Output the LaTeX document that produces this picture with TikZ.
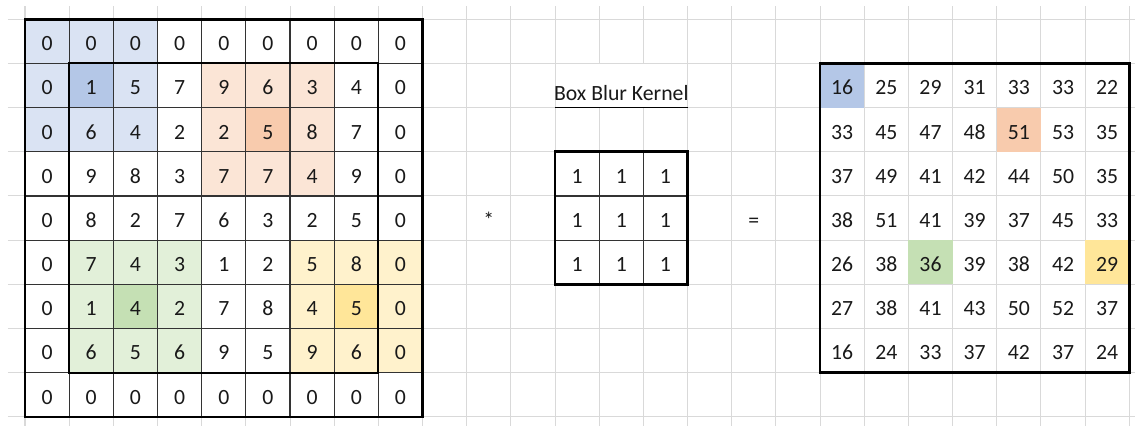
\documentclass[tikz,border=0pt]{standalone}
\usepackage{fontspec}
\setmainfont{Carlito}
\definecolor{bluelt}{HTML}{DAE3F3}
\definecolor{bluedk}{HTML}{B4C7E7}
\definecolor{orangelt}{HTML}{FBE5D6}
\definecolor{orangedk}{HTML}{F8CBAD}
\definecolor{greenlt}{HTML}{E2F0D9}
\definecolor{greendk}{HTML}{C5E0B4}
\definecolor{yellowlt}{HTML}{FFF2CC}
\definecolor{yellowdk}{HTML}{FFE699}
\begin{document}
\begin{tikzpicture}[x=1cm, y=-1cm,
    every node/.style={font=\fontsize{14}{16}\selectfont, text=black!90, anchor=base, inner sep=0pt},
    gridline/.style={gray!30, line width=0.65pt},
    cellline/.style={black!80, line width=0.8pt},
    frame/.style={black, line width=1.7pt}]
  \useasboundingbox (-0.566,-0.437) rectangle (25.13,9.208);

  % sheet grid
  \foreach \c in {0,...,25} \draw[gridline] (\c,-0.3) -- (\c,9.208);
  \foreach \r in {0,...,9} \draw[gridline] (-0.385,\r) -- (25.13,\r);
  \fill[white] (12.02,1.02) rectangle (14.98,2);

  % padded image with the four windows
  \fill[white] (0,0) rectangle (9,9);
  \foreach \r/\c/\lt/\dk in {0/0/bluelt/bluedk, 1/4/orangelt/orangedk,
                             5/1/greenlt/greendk, 5/6/yellowlt/yellowdk} {
    \fill[\lt] (\c,\r) rectangle ++(3,3);
    \fill[\dk] (\c+1,\r+1) rectangle ++(1,1);
  }
  \draw[cellline] (0,0) grid (9,9);
  \draw[frame] (0,0) rectangle (9,9);
  \draw[black, line width=1.3pt] (1,1) rectangle (8,8);
  \foreach \row [count=\r from 0] in {{0,0,0,0,0,0,0,0,0},{0,1,5,7,9,6,3,4,0},
      {0,6,4,2,2,5,8,7,0},{0,9,8,3,7,7,4,9,0},{0,8,2,7,6,3,2,5,0},
      {0,7,4,3,1,2,5,8,0},{0,1,4,2,7,8,4,5,0},{0,6,5,6,9,5,9,6,0},
      {0,0,0,0,0,0,0,0,0}} {
    \foreach \v [count=\c from 0] in \row
      \node (in-\r-\c) at (\c+0.5,\r+0.71) {\v};
  }

  % operator
  \node (conv) at (10.5,4.71) {*};

  % kernel
  \node (title) at (13.5,1.834) {Box Blur Kernel};
  \draw[black, line width=0.8pt] (12,2) -- (15,2);
  \draw[cellline] (12,3) grid (15,6);
  \draw[frame] (12,3) rectangle (15,6);
  \foreach \r in {0,1,2}
    \foreach \c in {0,1,2}
      \node (k-\r-\c) at (12.5+\c,3.71+\r) {1};

  % equals
  \node (eq) at (16.5,4.71) {=};

  % blurred result
  \foreach \r/\c/\dk in {0/0/bluedk, 1/4/orangedk, 4/2/greendk, 4/6/yellowdk}
    \fill[\dk] (18+\c,1+\r) rectangle ++(1,1);
  \draw[frame] (18,1) rectangle (25,8);
  \foreach \row [count=\r from 0] in {{16,25,29,31,33,33,22},{33,45,47,48,51,53,35},
      {37,49,41,42,44,50,35},{38,51,41,39,37,45,33},{26,38,36,39,38,42,29},
      {27,38,41,43,50,52,37},{16,24,33,37,42,37,24}} {
    \foreach \v [count=\c from 0] in \row
      \node (out-\r-\c) at (18.5+\c,1.71+\r) {\v};
  }
\end{tikzpicture}
\end{document}
